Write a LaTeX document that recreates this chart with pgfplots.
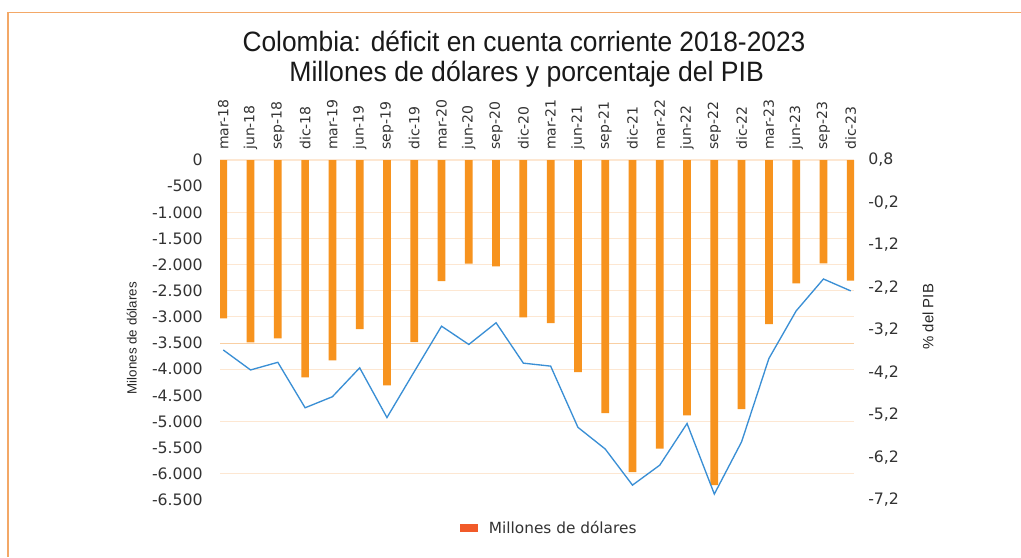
\documentclass[border=0pt]{standalone}
\usepackage{fontspec}
\setmainfont{DejaVu Sans}
\newfontfamily\arialf{Liberation Sans}
\usepackage{pgfplots}
\pgfplotsset{compat=1.18}
\definecolor{barorange}{HTML}{F7931E}
\definecolor{lineblue}{HTML}{3A8FD5}
\definecolor{legred}{HTML}{F15A29}
\definecolor{gridor}{HTML}{FDE7D2}
\definecolor{gridor2}{HTML}{F9CFA3}
\definecolor{frameor}{HTML}{F3A867}
\definecolor{txt}{HTML}{333333}
\begin{document}
\begin{tikzpicture}[x=1pt,y=1pt]
\path[use as bounding box] (0,0) rectangle (765.75,417.75);
\fill[white] (0,0) rectangle (765.75,417.75);
\draw[frameor, line width=1.2pt] (6.2,0) -- (6.2,408.4) -- (765.75,408.4);
\node[anchor=base, text=black!90, font=\arialf\fontsize{21}{25}\selectfont] at (393,378.75) {\scalebox{0.94}[1]{Colombia: déficit en cuenta corriente 2018-2023}};
\node[anchor=base, text=black!90, font=\arialf\fontsize{21}{25}\selectfont] at (395,356.25) {\scalebox{0.95}[1]{Millones de dólares y porcentaje del PIB}};

\begin{axis}[
  at={(165pt,42.75pt)}, anchor=south west, scale only axis,
  width=475.5pt, height=255pt,
  xmin=-0.12, xmax=23.12, ymin=-6500, ymax=0,
  axis line style={draw=none}, major tick length=0pt,
  xtick={0,...,23},
  xticklabels={mar-18,jun-18,sep-18,dic-18,mar-19,jun-19,sep-19,dic-19,mar-20,jun-20,sep-20,dic-20,mar-21,jun-21,sep-21,dic-21,mar-22,jun-22,sep-22,dic-22,mar-23,jun-23,sep-23,dic-23},
  xticklabel pos=upper,
  xticklabel shift=7.5pt,
  x tick label style={rotate=90, anchor=west, inner sep=0pt, text=txt, font=\fontsize{10.5}{12}\selectfont},
  ytick={0,-500,-1000,-1500,-2000,-2500,-3000,-3500,-4000,-4500,-5000,-5500,-6000,-6500},
  yticklabel shift=12.75pt,
  y tick label style={inner sep=0pt, text=txt, font=\fontsize{11.8}{13}\selectfont},
  /pgf/number format/assume math mode=true,
  /pgf/number format/1000 sep={.},
  scaled y ticks=false,
  extra y ticks={0,-1000,-1500,-2000,-2500,-3000,-4000,-5000,-6000},
  extra y tick labels={},
  extra y tick style={grid=major, major grid style={gridor, line width=0.8pt}},
  ylabel={Milones de dólares},
  every axis y label/.style={at={(rel axis cs:-0.139,0.476)}, rotate=90, anchor=center, font=\arialf\fontsize{10}{12}\selectfont, text=black!85},
  legend style={at={(axis description cs:0.3785,-0.0824)}, anchor=west, draw=none, fill=none, inner sep=0pt, font=\fontsize{11.5}{13}\selectfont, text=txt},
  clip=true,
]
\draw[gridor2, line width=0.8pt] (axis cs:-0.12,-3500) -- (axis cs:23.12,-3500);
\addplot[ybar, bar width=5.8pt, fill=barorange, draw=none,
  legend image code/.code={\fill[legred] (0pt,-2.8pt) rectangle (13.5pt,2.8pt); \path (19.5pt,0pt);}]
 coordinates {(0,-3030) (1,-3486) (2,-3410) (3,-4156) (4,-3830) (5,-3231) (6,-4309) (7,-3480) (8,-2314) (9,-1982) (10,-2033) (11,-3008) (12,-3120) (13,-4053) (14,-4837) (15,-5966) (16,-5519) (17,-4882) (18,-6214) (19,-4761) (20,-3136) (21,-2358) (22,-1976) (23,-2307)};
\addlegendentry{Millones de dólares}
\end{axis}

\begin{axis}[
  at={(165pt,42.75pt)}, anchor=south west, scale only axis,
  width=475.5pt, height=255pt,
  xmin=-0.12, xmax=23.12, ymin=-7.2, ymax=0.8,
  axis line style={draw=none}, major tick length=0pt,
  hide x axis,
  yticklabel pos=right,
  ytick={0.8,-0.2,-1.2,-2.2,-3.2,-4.2,-5.2,-6.2,-7.2},
  yticklabel shift=10.5pt,
  y tick label style={inner sep=0pt, text=txt, font=\fontsize{11.8}{13}\selectfont},
  /pgf/number format/assume math mode=true,
  /pgf/number format/.cd, fixed, precision=1, fixed zerofill, use comma, /pgfplots/.cd,
  ylabel={\% del PIB},
  every axis y label/.style={at={(rel axis cs:1.1167,0.539)}, rotate=90, anchor=center, font=\arialf\fontsize{11.2}{13}\selectfont, text=black!85},
]
\addplot[lineblue, line width=1pt, mark=none]
 coordinates {(0,-3.67) (1,-4.14) (2,-3.96) (3,-5.03) (4,-4.77) (5,-4.09) (6,-5.26) (7,-4.18) (8,-3.11) (9,-3.54) (10,-3.03) (11,-3.98) (12,-4.05) (13,-5.49) (14,-6.00) (15,-6.85) (16,-6.38) (17,-5.40) (18,-7.06) (19,-5.83) (20,-3.87) (21,-2.75) (22,-2.00) (23,-2.28)};
\end{axis}
\end{tikzpicture}
\end{document}
